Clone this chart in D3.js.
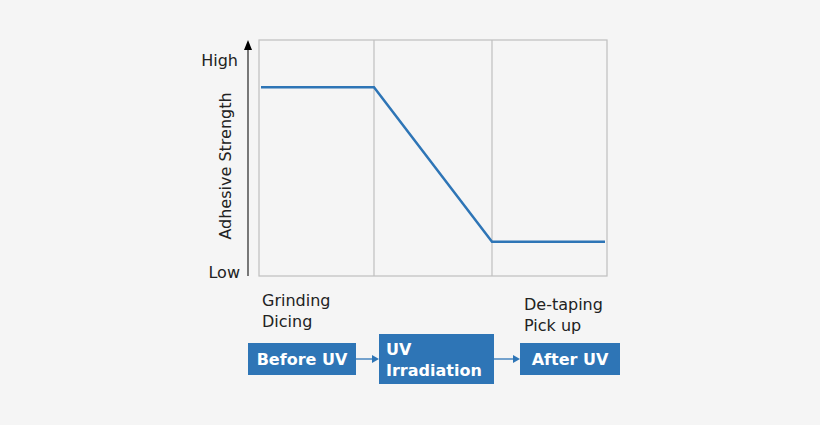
<!DOCTYPE html>
<html><head><meta charset="utf-8">
<script src="https://cdn.jsdelivr.net/npm/d3@7"></script>
<style>body{margin:0;background:#f5f5f5;}svg{display:block;font-family:Verdana,"DejaVu Sans",sans-serif;}</style>
</head><body><svg id="c" width="820" height="425"></svg>
<script>
const stageX = [0, 1, 2, 3];
const strength = [0.8, 0.8, 0.145, 0.145];
const gridStages = [1, 2];
const yLabels = ["Low", "High"];
const phaseLabels = [["Grinding","Dicing"], ["De-taping","Pick up"]];
const boxLabels = [["Before UV"], ["UV","Irradiation"], ["After UV"]];

const svg = d3.select("#c");
svg.append("rect").attr("width",820).attr("height",425).attr("fill","#f5f5f5");
const x = d3.scaleLinear().domain([0,3]).range([261,605]);
const xf = d3.scaleLinear().domain([0,3]).range([259,607]);
const y = d3.scaleLinear().domain([0,1]).range([276,40]);

svg.append("rect").attr("x",xf(0)).attr("y",y(1)).attr("width",xf(3)-xf(0)).attr("height",y(0)-y(1))
  .attr("fill","none").attr("stroke","#bfbfbf").attr("stroke-width",1.2);
gridStages.forEach(s=>svg.append("line").attr("x1",xf(s)+ (s===1?15:-22)*0).attr("x2",xf(s)).attr("y1",y(0)).attr("y2",y(1)));
svg.selectAll("line.g").data(gridStages).enter().append("line")
  .attr("x1",d=>d===1?374:492).attr("x2",d=>d===1?374:492).attr("y1",y(0)).attr("y2",y(1))
  .attr("stroke","#bfbfbf").attr("stroke-width",1.2);

// curve x positions: breakpoints at gridlines
const xs = d3.scaleLinear().domain([0,1,2,3]).range([261,374,492,605]);
svg.append("path").datum(stageX.map((d,i)=>[d,strength[i]]))
  .attr("d",d3.line().x(d=>xs(d[0])).y(d=>y(d[1])))
  .attr("fill","none").attr("stroke","#2e75b6").attr("stroke-width",2.5);

// y axis arrow
svg.append("defs").append("marker").attr("id","ah").attr("viewBox","0 0 10 10").attr("refX",5).attr("refY",10)
  .attr("markerWidth",8).attr("markerHeight",8).attr("orient","auto-start-reverse")
  .append("path").attr("d","M0,10 L5,0 L10,10 Z").attr("fill","#000");
svg.append("line").attr("x1",248).attr("x2",248).attr("y1",276).attr("y2",48).attr("stroke","#333").attr("stroke-width",1.3)
  .attr("marker-end",null);
svg.append("path").attr("d","M244,50 L248,40 L252,50 Z").attr("fill","#000");
svg.append("text").attr("x",238).attr("y",y(1)+26).attr("text-anchor","end").attr("font-size",16).attr("fill","#222").text(yLabels[1]);
svg.append("text").attr("x",240).attr("y",y(0)+2).attr("text-anchor","end").attr("font-size",16).attr("fill","#222").text(yLabels[0]);
svg.append("text").attr("transform","translate(231,166) rotate(-90)").attr("text-anchor","middle").attr("font-size",16).attr("fill","#222").text("Adhesive Strength");

// phase labels
const pl = [[262,306],[524,310]];
phaseLabels.forEach((ls,i)=>ls.forEach((t,j)=>svg.append("text").attr("x",pl[i][0]).attr("y",pl[i][1]+j*21)
  .attr("font-size",16).attr("fill","#222").text(t)));

// boxes
const boxes = [[248,343,108,32],[379,334,115,50],[520,343,100,32]];
boxes.forEach((b,i)=>{
  svg.append("rect").attr("x",b[0]).attr("y",b[1]).attr("width",b[2]).attr("height",b[3]).attr("fill","#2e75b6");
  const ls = boxLabels[i];
  ls.forEach((t,j)=>svg.append("text").attr("x",i===1?b[0]+7:b[0]+b[2]/2).attr("text-anchor",i===1?"start":"middle")
    .attr("y",i===1?b[1]+21+j*21:b[1]+22).attr("font-size",16).attr("font-weight","bold").attr("fill","#fff").text(t));
});
[[356,379],[494,520]].forEach(a=>{
  svg.append("line").attr("x1",a[0]).attr("x2",a[1]-6).attr("y1",359).attr("y2",359).attr("stroke","#2e75b6").attr("stroke-width",1.3);
  svg.append("path").attr("d",`M${a[1]-7},355 L${a[1]},359 L${a[1]-7},363 Z`).attr("fill","#2e75b6");
});
</script></body></html>
